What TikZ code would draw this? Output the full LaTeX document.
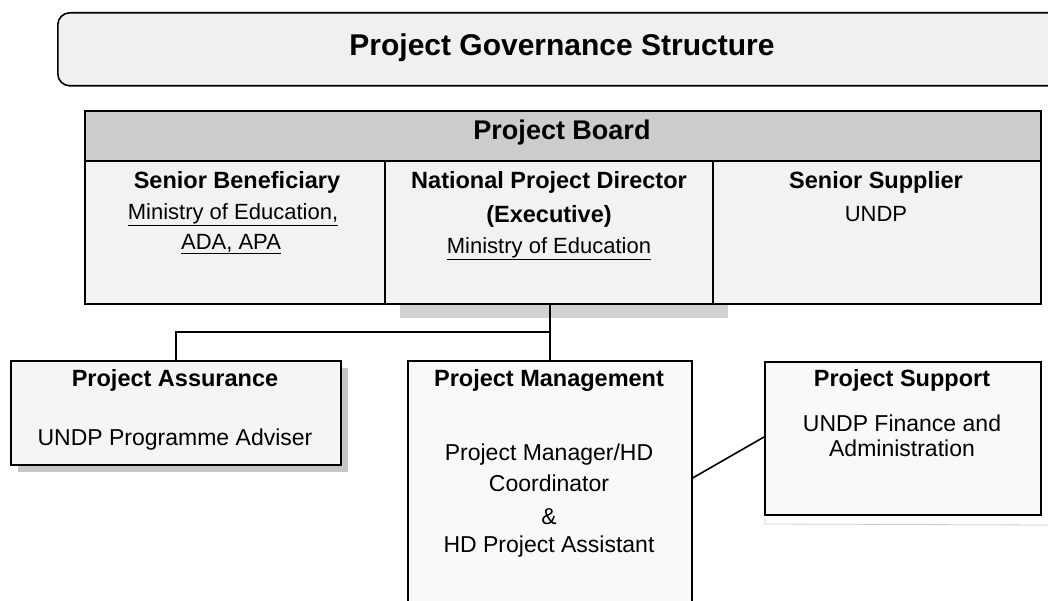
\documentclass[tikz,border=0pt]{standalone}
\usepackage{fontspec}
\setmainfont{Liberation Sans}
\usetikzlibrary{calc}
\begin{document}
\begin{tikzpicture}[x=1pt,y=-1pt,line width=1.6pt,
  box/.style={draw,line width=1.6pt,anchor=north west,inner sep=0pt},
  hd/.style={font=\fontsize{23.5}{25}\selectfont\bfseries,inner sep=0pt},
  tx/.style={font=\fontsize{23}{25}\selectfont,inner sep=0pt},
  btx/.style={font=\fontsize{22}{24}\selectfont,inner sep=0pt},
  link/.style={draw,line width=1.6pt}]
\useasboundingbox (0,0) rectangle (1048,601);
% title
\node[box,rounded corners=12pt,minimum width=1010,minimum height=73,fill=gray!12] (title) at (57,12) {};
\node[font=\fontsize{30}{32}\selectfont\bfseries] (titletext) at (562,48) {Project Governance Structure};
% board
\fill[gray!35] (400,305) rectangle (728,318);
\node[box,minimum width=956,minimum height=193,fill=gray!10] (board) at (84,110) {};
\node[box,minimum width=956,minimum height=50,fill=gray!40] (boardhead) at (84,110) {};
\node[font=\fontsize{27}{29}\selectfont\bfseries] (boardtext) at (562,133) {Project Board};
\draw (385,160) -- (385,303);
\draw (713,160) -- (713,303);
\node[hd] (sb) at (237,182) {Senior Beneficiary};
\node[btx] (sb1) at (233,215) {\underline{Ministry of Education,}};
\node[btx] (sb2) at (231,244) {\underline{ADA, APA}};
\node[hd] (npd) at (549,182) {National Project Director};
\node[hd] (npd1) at (549,216) {(Executive)};
\node[btx] (npd2) at (549,249) {\underline{Ministry of Education}};
\node[hd] (ss) at (876,182) {Senior Supplier};
\node[btx] (ss1) at (876,214) {UNDP};
% lower boxes
\fill[gray!45] (18,368) rectangle (348,472);
\node[box,minimum width=330,minimum height=104,fill=gray!8] (assur) at (10,360) {};
\node[hd] (assurt) at (175,380) {Project Assurance};
\node[tx] (assur1) at (175,440) {UNDP Programme Adviser};
\node[box,minimum width=284,minimum height=260,fill=gray!5] (mgmt) at (407,360) {};
\node[hd] (mgmtt) at (549,380) {Project Management};
\node[tx] (mgmt1) at (549,455) {Project Manager/HD};
\node[tx] (mgmt2) at (549,483) {Coordinator};
\node[tx] (mgmt3) at (549,517) {\&};
\node[tx] (mgmt4) at (549,547) {HD Project Assistant};
\draw[gray!40,line width=0.8pt] (765,518) -- (765,524) -- (1048,525);
\node[box,minimum width=276,minimum height=153,fill=gray!5] (supp) at (764,361) {};
\node[hd] (suppt) at (902,380) {Project Support};
\node[tx] (supp1) at (902,423) {UNDP Finance and};
\node[tx] (supp2) at (902,448) {Administration};
% connectors
\coordinate (j) at (mgmt.north |- 0,332);
\draw[link] (mgmt.north |- board.south) -- (mgmt.north);
\draw[link] (assur.north) |- (j);
\draw[link] ($(mgmt.north east)+(0,118)$) -- ($(supp.north west)+(0,76)$);
\end{tikzpicture}
\end{document}
